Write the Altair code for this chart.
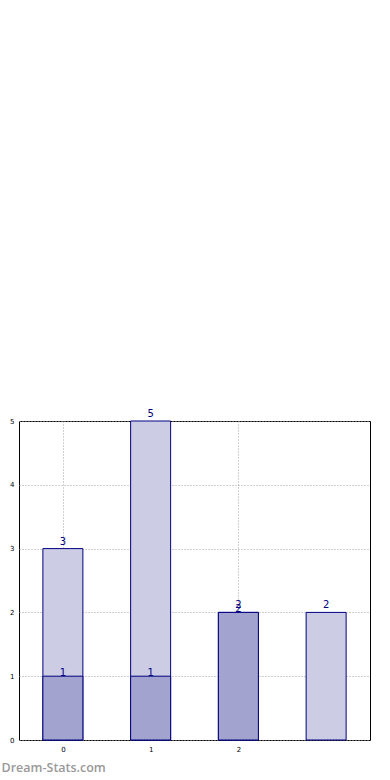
import altair as alt
import pandas as pd

categories = [0, 1, 2, 3]
background = [3, 5, 2, 2]
fg_categories = [0, 1, 2]
foreground = [1, 1, 2]
x_ticks = [0, 1, 2]
y_ticks = [0, 1, 2, 3, 4, 5]

bg = pd.DataFrame({"cat": categories, "val": background})
fg = pd.DataFrame({"cat": fg_categories, "val": foreground})

FONT = "DejaVu Sans"
NAVY = "#000080"

axis_common = dict(title=None, format="d", labelFontSize=7, labelColor="#000",
                   labelPadding=5, ticks=False, domain=False, grid=True,
                   gridDash=[1, 2], gridColor="#a0a0a0")

x = alt.X("cat:Q", scale=alt.Scale(domain=[-0.5, 3.5], nice=False, zero=False, padding=0),
          axis=alt.Axis(values=x_ticks, **axis_common))
y = alt.Y("val:Q", scale=alt.Scale(domain=[0, 5], nice=False, padding=0),
          axis=alt.Axis(values=y_ticks, **axis_common))

bg_bars = alt.Chart(bg).mark_bar(size=40, color="#ccccE4", stroke=NAVY, strokeWidth=1).encode(x=x, y=y)
fg_bars = alt.Chart(fg).mark_bar(size=40, color="#a3a3cf", stroke=NAVY, strokeWidth=1).encode(x=x, y=y)
bg_text = alt.Chart(bg).mark_text(baseline="bottom", dy=-2, fontSize=10, color=NAVY, font=FONT).encode(
    x=x, y=y, text=alt.Text("val:Q", format="d"))
fg_text = alt.Chart(fg).mark_text(baseline="bottom", dy=2, fontSize=10, color=NAVY, font=FONT).encode(
    x=x, y=y, text=alt.Text("val:Q", format="d"))

chart = alt.layer(bg_bars, fg_bars, bg_text, fg_text).properties(
    width=351, height=319,
    title=alt.Title("Dream-Stats.com", orient="bottom", anchor="start", fontSize=12.5,
                    fontWeight=600, color="#999999", font="Open Sans", offset=10, dx=-8),
    padding={"left": 19, "top": 421, "right": 20, "bottom": 40},
    autosize=alt.AutoSizeParams(type="none"),
).configure_view(stroke="#000", strokeWidth=1).configure_axis(labelFont=FONT)

chart.save("out.html", embed_options={"renderer": "svg", "actions": False})
